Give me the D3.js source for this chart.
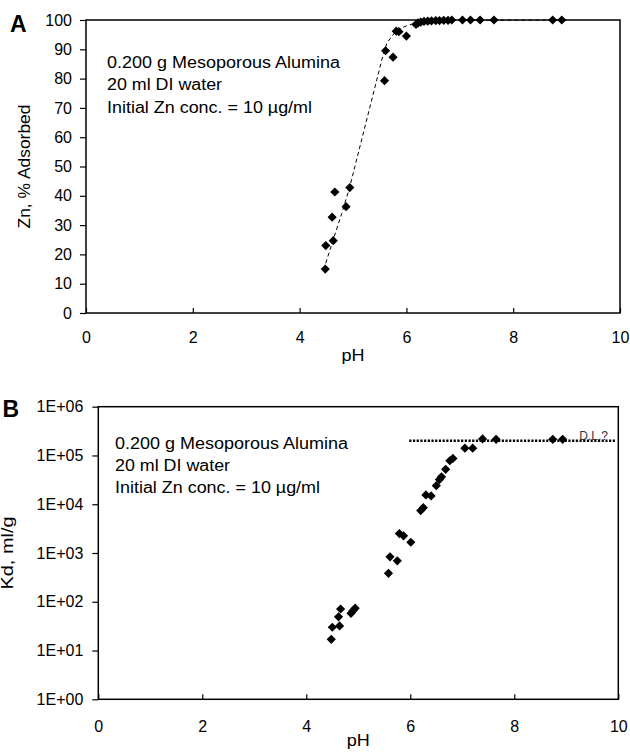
<!DOCTYPE html>
<html>
<head>
<meta charset="utf-8">
<script src="https://cdn.jsdelivr.net/npm/d3@7"></script>
<style>
  body { margin: 0; background: #fff; }
  svg { display: block; font-family: "Liberation Sans", Arial, sans-serif; }
</style>
</head>
<body>
<div class="canvas"></div>
<script>
// panel A: % Zn adsorbed vs pH
const phA = [4.48, 4.49, 4.63, 4.61, 4.66, 4.87, 4.94, 5.59, 5.61, 5.75, 5.81, 5.86, 6.00,
  6.18, 6.22, 6.27, 6.33, 6.40, 6.47, 6.55, 6.62, 6.70, 6.78, 6.85, 7.05, 7.20, 7.38, 7.64, 8.74, 8.91];
const znAds = [15, 23, 24.7, 32.7, 41.3, 36.3, 42.8, 79.3, 89.5, 87.3, 96.2, 96, 94.5,
  98.5, 99, 99.3, 99.5, 99.6, 99.7, 99.8, 99.8, 99.9, 99.9, 100, 100, 100, 100, 100, 100, 100];

// dashed trend line in panel A
const fitPh = [4.49, 4.63, 4.79, 4.94, 5.57, 5.64, 5.82, 6.00, 6.19, 6.63, 9.0];
const fitZn = [17, 25.1, 34, 43.1, 88.6, 92.3, 96.6, 98, 99.1, 99.8, 100];

// panel B: Kd vs pH
const phB = [4.48, 4.50, 4.62, 4.64, 4.66, 4.86, 4.90, 4.94, 5.58, 5.61, 5.75, 5.79, 5.87, 6.01,
  6.20, 6.25, 6.30, 6.40, 6.50, 6.56, 6.60, 6.68, 6.76, 6.82, 7.05, 7.20, 7.39, 7.65, 8.74, 8.93];
const kd = [17, 30, 49, 32, 71, 58, 66, 74, 383, 835, 690, 2500, 2250, 1660,
  7400, 8500, 15500, 14800, 24000, 32000, 36500, 52000, 78000, 87000, 141000, 141000, 218000, 214000, 214000, 214000];

// detection limit line
const dlPh = [5.98, 9.94];
const dlKd = 200000;

const xTicks = [0, 2, 4, 6, 8, 10];
const yTicksA = d3.range(0, 101, 10);
const yTicksB = [1, 10, 100, 1000, 10000, 100000, 1000000];

const noteLines = ['0.200 g Mesoporous Alumina', '20 ml DI water', 'Initial Zn conc. = 10 \u00b5g/ml'];
const noteWidths = [233, 115, 205];

const svg = d3.select('.canvas')
  .append('svg')
    .attr('width', 630)
    .attr('height', 752);

const diamond = 'M0,-4.6L4.6,0L0,4.6L-4.6,0Z';

// draw one panel
const panel = opts => {
  const { left, right, top, bottom, x, y } = opts;
  const g = svg.append('g');

  // axes
  const xAxis = g.append('g')
    .attr('transform', `translate(0, ${bottom})`)
    .call(d3.axisBottom(x).tickValues(xTicks).tickSize(-5).tickPadding(opts.xPad));

  const yAxis = g.append('g')
    .attr('transform', `translate(${left}, 0)`)
    .call(d3.axisLeft(y).tickValues(opts.yTicks).tickSize(6).tickPadding(opts.yPad).tickFormat(opts.yFormat));

  [xAxis, yAxis].forEach(a => {
    a.select('.domain').remove();
    a.selectAll('line').attr('stroke', '#000').attr('stroke-width', 1.2);
    a.selectAll('text')
      .attr('fill', '#000')
      .style('font-size', '16px')
      .style('font-family', '"Liberation Sans", Arial, sans-serif');
  });

  // plot frame
  g.append('rect')
    .attr('x', left)
    .attr('y', top)
    .attr('width', right - left)
    .attr('height', bottom - top)
    .attr('fill', 'none')
    .attr('stroke', '#000')
    .attr('stroke-width', 1.5);

  // axis titles
  g.append('text')
    .attr('x', (left + right) / 2)
    .attr('y', opts.xTitleY)
    .attr('text-anchor', 'middle')
    .style('font-size', '16px')
    .attr('textLength', 23)
    .attr('lengthAdjust', 'spacingAndGlyphs')
    .text('pH');

  g.append('text')
    .attr('transform', `translate(${opts.yTitleX}, ${(top + bottom) / 2}) rotate(-90)`)
    .attr('text-anchor', 'middle')
    .style('font-size', '16px')
    .attr('textLength', opts.yTitleLen)
    .attr('lengthAdjust', 'spacingAndGlyphs')
    .text(opts.yTitle);

  // panel letter
  g.append('text')
    .attr('x', opts.letterX)
    .attr('y', opts.letterY)
    .style('font-size', '23px')
    .style('font-weight', 'bold')
    .text(opts.letter);

  // note
  g.selectAll('.note')
    .data(noteLines)
    .enter()
    .append('text')
      .attr('class', 'note')
      .attr('x', opts.noteX)
      .attr('y', (d, i) => opts.noteY + i * 22.4)
      .attr('textLength', (d, i) => noteWidths[i])
      .attr('lengthAdjust', 'spacingAndGlyphs')
      .style('font-size', '16px')
      .text(d => d);

  return g;
};

// ---- panel A
const xA = d3.scaleLinear().domain([0, 10]).range([86, 620]);
const yA = d3.scaleLinear().domain([0, 100]).range([313, 20]);

const gA = panel({
  left: 86, right: 620, top: 20, bottom: 313, x: xA, y: yA,
  yTicks: yTicksA, yFormat: d3.format('d'), xPad: 18.5, yPad: 8,
  xTitleY: 361, yTitleX: 30, yTitle: 'Zn, % Adsorbed', yTitleLen: 124,
  letter: 'A', letterX: 10, letterY: 31.5, noteX: 107, noteY: 68
});

const fitLine = d3.line()
  .x(d => xA(d[0]))
  .y(d => yA(d[1]));

gA.append('path')
  .datum(d3.zip(fitPh, fitZn))
  .attr('fill', 'none')
  .attr('stroke', '#000')
  .attr('stroke-width', 1)
  .attr('stroke-dasharray', '4,3')
  .attr('d', fitLine);

gA.selectAll('.pt')
  .data(d3.zip(phA, znAds))
  .enter()
  .append('path')
    .attr('class', 'pt')
    .attr('d', diamond)
    .attr('fill', '#000')
    .attr('transform', d => `translate(${xA(d[0])}, ${yA(d[1])})`);

// ---- panel B
const xB = d3.scaleLinear().domain([0, 10]).range([98.3, 618.3]);
const yB = d3.scaleLog().domain([1, 1e6]).range([699.3, 406.7]);

const gB = panel({
  left: 98.3, right: 618.3, top: 406.7, bottom: 699.3, x: xB, y: yB,
  yTicks: yTicksB, yFormat: d => '1E+' + String(Math.round(Math.log10(d))).padStart(2, '0'),
  xPad: 21, yPad: 9,
  xTitleY: 746, yTitleX: 12.5, yTitle: 'Kd, ml/g', yTitleLen: 73,
  letter: 'B', letterX: 2.5, letterY: 417, noteX: 115, noteY: 448.5
});

gB.append('line')
  .attr('x1', xB(dlPh[0]))
  .attr('x2', xB(dlPh[1]))
  .attr('y1', yB(dlKd))
  .attr('y2', yB(dlKd))
  .attr('stroke', '#000')
  .attr('stroke-width', 2.5)
  .attr('stroke-dasharray', '2.2,1.5');

gB.append('text')
  .attr('x', 608)
  .attr('y', yB(dlKd) - 1)
  .attr('text-anchor', 'end')
  .attr('fill', '#333')
  .style('font-size', '12px')
  .text('D.L.?');

gB.selectAll('.pt')
  .data(d3.zip(phB, kd))
  .enter()
  .append('path')
    .attr('class', 'pt')
    .attr('d', diamond)
    .attr('fill', '#000')
    .attr('transform', d => `translate(${xB(d[0])}, ${yB(d[1])})`);
</script>
</body>
</html>
